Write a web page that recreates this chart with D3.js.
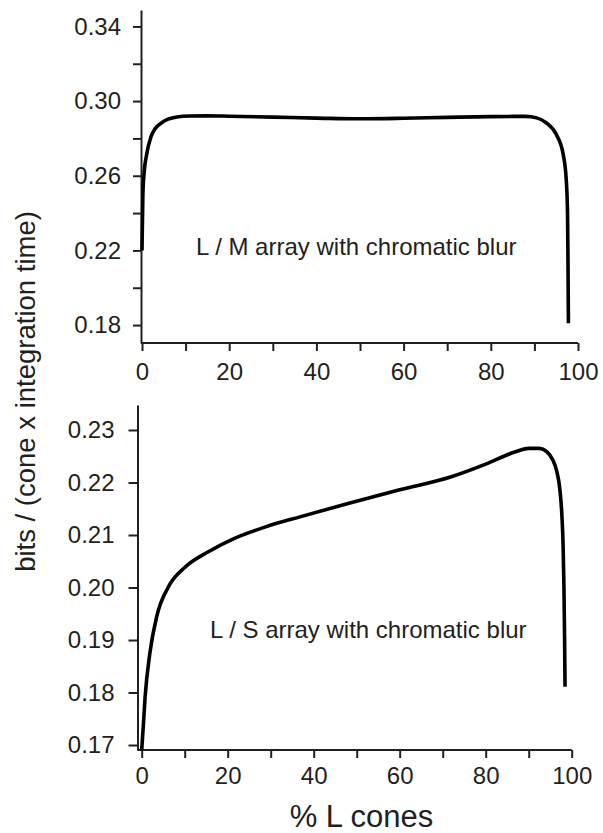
<!DOCTYPE html>
<html>
<head>
<meta charset="utf-8">
<script src="https://cdn.jsdelivr.net/npm/d3@7"></script>
<style>
  body { margin: 0; background: #fff; }
  svg text { font-family: "Liberation Sans", Arial, Helvetica, sans-serif; fill: #231f20; }
</style>
</head>
<body>
<svg id="chart" width="603" height="833"></svg>
<script>
// --- data ---
// top panel: L / M array
const lmPercent = [0, 0.2, 0.5, 1.0, 2.0, 3.0, 4.5, 6, 8, 11, 15, 20, 30, 40, 50, 60, 70, 80, 88, 90.5, 92.7, 95, 96.6, 97.3, 97.6, 97.7, 97.8];
const lmBits = [0.220, 0.250, 0.262, 0.2706, 0.2805, 0.2852, 0.2884, 0.2903, 0.2915, 0.2920, 0.2921, 0.2919, 0.2914, 0.2909, 0.2905, 0.2908, 0.2913, 0.2917, 0.2918, 0.2910, 0.2884, 0.2822, 0.2715, 0.258, 0.240, 0.215, 0.181];

// bottom panel: L / S array
const lsPercent = [0, 0.4, 0.8, 1.9, 3.5, 6.2, 10, 15.5, 21.7, 29, 37, 48, 60, 72, 80, 86.4, 90, 92.5, 94.2, 95.6, 96.5, 97.2, 97.7, 98.0, 98.2, 98.35, 98.45];
const lsBits = [0.169, 0.174, 0.1792, 0.1875, 0.1945, 0.2001, 0.2038, 0.2068, 0.2094, 0.2116, 0.2135, 0.2160, 0.2186, 0.2211, 0.2235, 0.2257, 0.2265, 0.2265, 0.2259, 0.2243, 0.2222, 0.2190, 0.2140, 0.2080, 0.200, 0.190, 0.1811];

const xTicks = [0, 10, 20, 30, 40, 50, 60, 70, 80, 90, 100];
const xLabels = [0, 20, 40, 60, 80, 100];
const lmTicks = [0.18, 0.20, 0.22, 0.24, 0.26, 0.28, 0.30, 0.32, 0.34];
const lmLabels = [0.18, 0.22, 0.26, 0.30, 0.34];
const lsTicks = [0.17, 0.18, 0.19, 0.20, 0.21, 0.22, 0.23];

const svg = d3.select("#chart");
const fontSize = 24;

function panel(cfg) {
  const x = d3.scaleLinear().domain([0, 100]).range(cfg.xRange);
  const y = d3.scaleLinear().domain(cfg.yDomain).range(cfg.yRange);
  const g = svg.append("g");

  // x axis
  const xAxis = g.append("g")
    .attr("transform", `translate(0,${cfg.yRange[0]})`)
    .call(d3.axisBottom(x)
      .tickValues(xTicks)
      .tickSize(8)
      .tickSizeOuter(0)
      .tickPadding(cfg.xPad)
      .tickFormat(d => xLabels.includes(d) ? d : ""));
  xAxis.select(".domain").attr("d", `M${cfg.axisX},0H${cfg.xRange[1]}`);

  // y axis
  g.append("g")
    .attr("transform", `translate(${cfg.axisX},0)`)
    .call(d3.axisLeft(y)
      .tickValues(cfg.yTicks)
      .tickSize(cfg.yTickSize)
      .tickSizeOuter(0)
      .tickPadding(cfg.yPad)
      .tickFormat(d => cfg.yLabels.some(v => Math.abs(v - d) < 1e-9) ? d3.format(".2f")(d) : ""));

  g.selectAll(".domain, .tick line")
    .attr("stroke", "#231f20")
    .attr("stroke-width", 2);
  g.selectAll(".tick text")
    .attr("font-size", fontSize)
    .attr("fill", "#231f20")
    .style("font-family", '"Liberation Sans", Arial, Helvetica, sans-serif');

  // curve
  const line = d3.line()
    .x(d => x(d[0]))
    .y(d => y(d[1]))
    .curve(d3.curveMonotoneX);
  g.append("path")
    .datum(d3.zip(cfg.xs, cfg.ys))
    .attr("d", line)
    .attr("fill", "none")
    .attr("stroke", "#000")
    .attr("stroke-width", 3.6)
    .attr("stroke-linejoin", "round");

  g.append("text")
    .attr("x", cfg.noteX)
    .attr("y", cfg.noteY)
    .attr("font-size", fontSize)
    .text(cfg.note);
}

panel({
  xRange: [142, 578], axisX: 141,
  yDomain: [0.1704, 0.3488], yRange: [343, 10],
  yTicks: lmTicks, yLabels: lmLabels,
  yTickSize: 8, yPad: 12, xPad: 12,
  xs: lmPercent, ys: lmBits,
  note: "L / M array with chromatic blur", noteX: 196, noteY: 255
});

panel({
  xRange: [141.7, 571.7], axisX: 137.5,
  yDomain: [0.16905, 0.23476], yRange: [750, 405],
  yTicks: lsTicks, yLabels: lsTicks,
  yTickSize: 9, yPad: 14, xPad: 9,
  xs: lsPercent, ys: lsBits,
  note: "L / S array with chromatic blur", noteX: 210, noteY: 638
});

// shared axis titles
svg.append("text")
  .attr("transform", "translate(35,391.5) rotate(-90)")
  .attr("text-anchor", "middle")
  .attr("font-size", 27.5)
  .text("bits / (cone x integration time)");

svg.append("text")
  .attr("x", 361.5)
  .attr("y", 826.5)
  .attr("text-anchor", "middle")
  .attr("font-size", 31)
  .text("% L cones");
</script>
</body>
</html>
